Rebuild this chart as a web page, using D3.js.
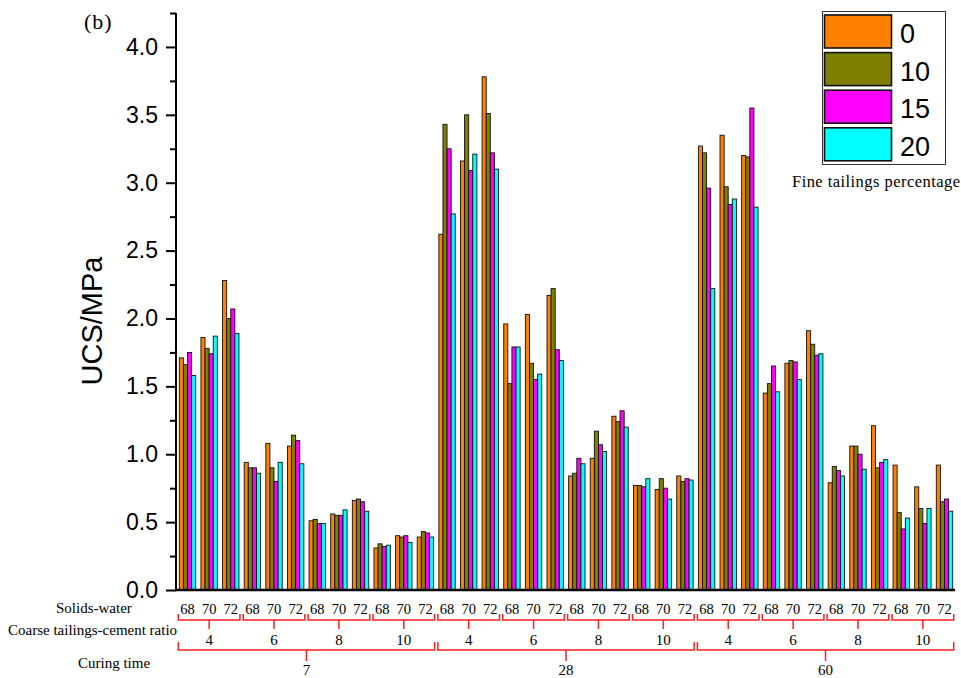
<!DOCTYPE html>
<html>
<head>
<meta charset="utf-8">
<script src="https://cdn.jsdelivr.net/npm/d3@7/dist/d3.min.js"></script>
<style>
  html, body { margin: 0; padding: 0; background: #ffffff; }
  svg { display: block; }
</style>
</head>
<body>
<svg id="chart" width="961" height="678"></svg>
<script>
// Grouping levels along the x axis
const curingTimes = [7, 28, 60];
const ratios = [4, 6, 8, 10];
const solidsWater = [68, 70, 72];

// Fine tailings percentage series (legend order)
const fineLabels = ["0", "10", "15", "20"];
const fineColors = ["#ff8000", "#808000", "#ff00ff", "#00ffff"];

// UCS (MPa) per group: curing 7 / 28 / 60, each ratio 4,6,8,10 × solids-water 68,70,72
const ucs0 = [1.71, 1.86, 2.28, 0.94, 1.08, 1.06, 0.51, 0.56, 0.66, 0.31, 0.40, 0.39,
              2.62, 3.16, 3.78, 1.96, 2.03, 2.17, 0.84, 0.97, 1.28, 0.77, 0.74, 0.84,
              3.27, 3.35, 3.20, 1.45, 1.67, 1.91, 0.79, 1.06, 1.21, 0.92, 0.76, 0.92];
const ucs10 = [1.66, 1.78, 2.00, 0.90, 0.90, 1.14, 0.52, 0.55, 0.67, 0.34, 0.39, 0.43,
               3.43, 3.50, 3.51, 1.52, 1.67, 2.22, 0.86, 1.17, 1.24, 0.77, 0.82, 0.80,
               3.22, 2.97, 3.19, 1.52, 1.69, 1.81, 0.91, 1.06, 0.90, 0.57, 0.60, 0.65];
const ucs15 = [1.75, 1.74, 2.07, 0.90, 0.80, 1.10, 0.49, 0.55, 0.65, 0.32, 0.40, 0.42,
               3.25, 3.09, 3.22, 1.79, 1.55, 1.77, 0.97, 1.07, 1.32, 0.76, 0.75, 0.82,
               2.96, 2.84, 3.55, 1.65, 1.68, 1.73, 0.88, 1.00, 0.94, 0.45, 0.49, 0.67];
const ucs20 = [1.58, 1.87, 1.89, 0.86, 0.94, 0.93, 0.49, 0.59, 0.58, 0.33, 0.35, 0.39,
               2.77, 3.21, 3.10, 1.79, 1.59, 1.69, 0.93, 1.02, 1.20, 0.82, 0.67, 0.81,
               2.22, 2.88, 2.82, 1.46, 1.55, 1.74, 0.84, 0.89, 0.96, 0.53, 0.60, 0.58];

const yMajorTicks = [0, 0.5, 1.0, 1.5, 2.0, 2.5, 3.0, 3.5, 4.0];
const yMinorTicks = [0.25, 0.75, 1.25, 1.75, 2.25, 2.75, 3.25, 3.75, 4.25];

const series = [ucs0, ucs10, ucs15, ucs20];

// Flatten the three-level grouping into a list of groups
const groups = [];
curingTimes.forEach((ct, ci) => ratios.forEach((r, ri) => solidsWater.forEach((sw, si) => {
  groups.push({ idx: groups.length, ct, ci, r, ri, sw, si });
})));

const svg = d3.select("#chart");
const serif = "'Liberation Serif', 'DejaVu Serif', serif";
const sans = "'Liberation Sans', Arial, sans-serif";

const plotLeft = 176, plotRight = 955, plotBottom = 590, plotTop = 13;

const y = d3.scaleLinear().domain([0, 4.25]).range([plotBottom, plotTop]);
const x0 = d3.scaleBand().domain(groups.map(g => g.idx)).range([plotLeft, 956])
  .paddingInner(0.242).paddingOuter(0.153);
const x1 = d3.scaleBand().domain(d3.range(series.length)).range([0, x0.bandwidth()]).padding(0);

// Bars
const gBars = svg.append("g");
groups.forEach(g => {
  gBars.append("g").attr("transform", `translate(${x0(g.idx)},0)`)
    .selectAll("rect").data(series.map((s, k) => ({ k, v: s[g.idx] })))
    .join("rect")
    .attr("x", d => x1(d.k))
    .attr("y", d => y(d.v))
    .attr("width", x1.bandwidth())
    .attr("height", d => y(0) - y(d.v))
    .attr("fill", d => fineColors[d.k])
    .attr("stroke", "#111")
    .attr("stroke-width", 0.9);
});

// Y axis: major labelled ticks plus minor ticks
const yAxis = d3.axisLeft(y).tickValues(yMajorTicks).tickFormat(d3.format(".1f"))
  .tickSize(10).tickPadding(8);
const ya = svg.append("g").attr("transform", `translate(${plotLeft},0)`).call(yAxis);
ya.select(".domain").remove();
ya.selectAll(".tick line").attr("stroke", "#000").attr("stroke-width", 2);
ya.selectAll(".tick text").attr("font-family", sans).attr("font-size", 23).attr("fill", "#000");
const yMinor = d3.axisLeft(y).tickValues(yMinorTicks).tickFormat("").tickSize(6);
const ym = svg.append("g").attr("transform", `translate(${plotLeft},0)`).call(yMinor);
ym.select(".domain").remove();
ym.selectAll(".tick line").attr("stroke", "#000").attr("stroke-width", 2);

svg.append("line").attr("x1", plotLeft).attr("x2", plotLeft).attr("y1", y(0) + 1).attr("y2", y(4.25))
  .attr("stroke", "#000").attr("stroke-width", 2);
svg.append("line").attr("x1", plotLeft - 1).attr("x2", plotRight).attr("y1", y(0)).attr("y2", y(0))
  .attr("stroke", "#000").attr("stroke-width", 2.6);

// Y title and panel tag
svg.append("text").attr("transform", "translate(102,321) rotate(-90)")
  .attr("text-anchor", "middle").attr("font-family", sans).attr("font-size", 29)
  .attr("fill", "#000").text("UCS/MPa");
svg.append("text").attr("x", 84).attr("y", 29).attr("font-family", serif)
  .attr("font-size", 22).attr("letter-spacing", 1).attr("fill", "#000").text("(b)");

// Legend
const lg = svg.append("g");
lg.append("rect").attr("x", 822.5).attr("y", 11.5).attr("width", 123).attr("height", 153)
  .attr("fill", "#fff").attr("stroke", "#333").attr("stroke-width", 1);
fineLabels.forEach((lab, k) => {
  const yy = 15 + k * 37.6;
  lg.append("rect").attr("x", 824.5).attr("y", yy).attr("width", 67).attr("height", 33)
    .attr("fill", fineColors[k]).attr("stroke", "#111").attr("stroke-width", 1.6);
  lg.append("text").attr("x", 900).attr("y", yy + 28).attr("font-family", sans)
    .attr("font-size", 27).attr("fill", "#000").text(lab);
});
svg.append("text").attr("x", 792).attr("y", 187).attr("font-family", serif)
  .attr("font-size", 16.5).attr("letter-spacing", 0.45).attr("fill", "#000")
  .text("Fine tailings percentage");

// Hierarchical x labels
const red = "#ff2020";
const lab = svg.append("g").attr("font-family", serif).attr("fill", "#000");
lab.append("text").attr("x", 56).attr("y", 612.5).attr("font-size", 15).text("Solids-water");
lab.append("text").attr("x", 8).attr("y", 635).attr("font-size", 15).text("Coarse tailings-cement ratio");
lab.append("text").attr("x", 78).attr("y", 667.5).attr("font-size", 15).text("Curing time");

groups.forEach(g => {
  lab.append("text").attr("x", x0(g.idx) + x0.bandwidth() / 2).attr("y", 613.5)
    .attr("text-anchor", "middle").attr("font-size", 14.5).text(g.sw);
});

function bracket(xa, xb, yTop, yLine, yTick) {
  const xm = (xa + xb) / 2;
  svg.append("path")
    .attr("d", `M${xa},${yTop}L${xa},${yLine}L${xb},${yLine}L${xb},${yTop}M${xm},${yLine}L${xm},${yTick}`)
    .attr("fill", "none").attr("stroke", red).attr("stroke-width", 1.5);
  return xm;
}

curingTimes.forEach((ct, ci) => {
  ratios.forEach((r, ri) => {
    const gs = groups.filter(g => g.ci === ci && g.ri === ri);
    const xa = x0(gs[0].idx) - 1;
    const xb = x0(gs[gs.length - 1].idx) + x0.bandwidth() + 1;
    const xm = bracket(xa, xb, 614, 620, 629);
    lab.append("text").attr("x", xm).attr("y", 645).attr("text-anchor", "middle")
      .attr("font-size", 15).text(r);
  });
  const gs = groups.filter(g => g.ci === ci);
  const xa = x0(gs[0].idx) - 1;
  const xb = x0(gs[gs.length - 1].idx) + x0.bandwidth() + 1;
  const xm = bracket(xa, xb, 642, 650, 661);
  lab.append("text").attr("x", xm).attr("y", 675).attr("text-anchor", "middle")
    .attr("font-size", 15).text(ct);
});
</script>
</body>
</html>
